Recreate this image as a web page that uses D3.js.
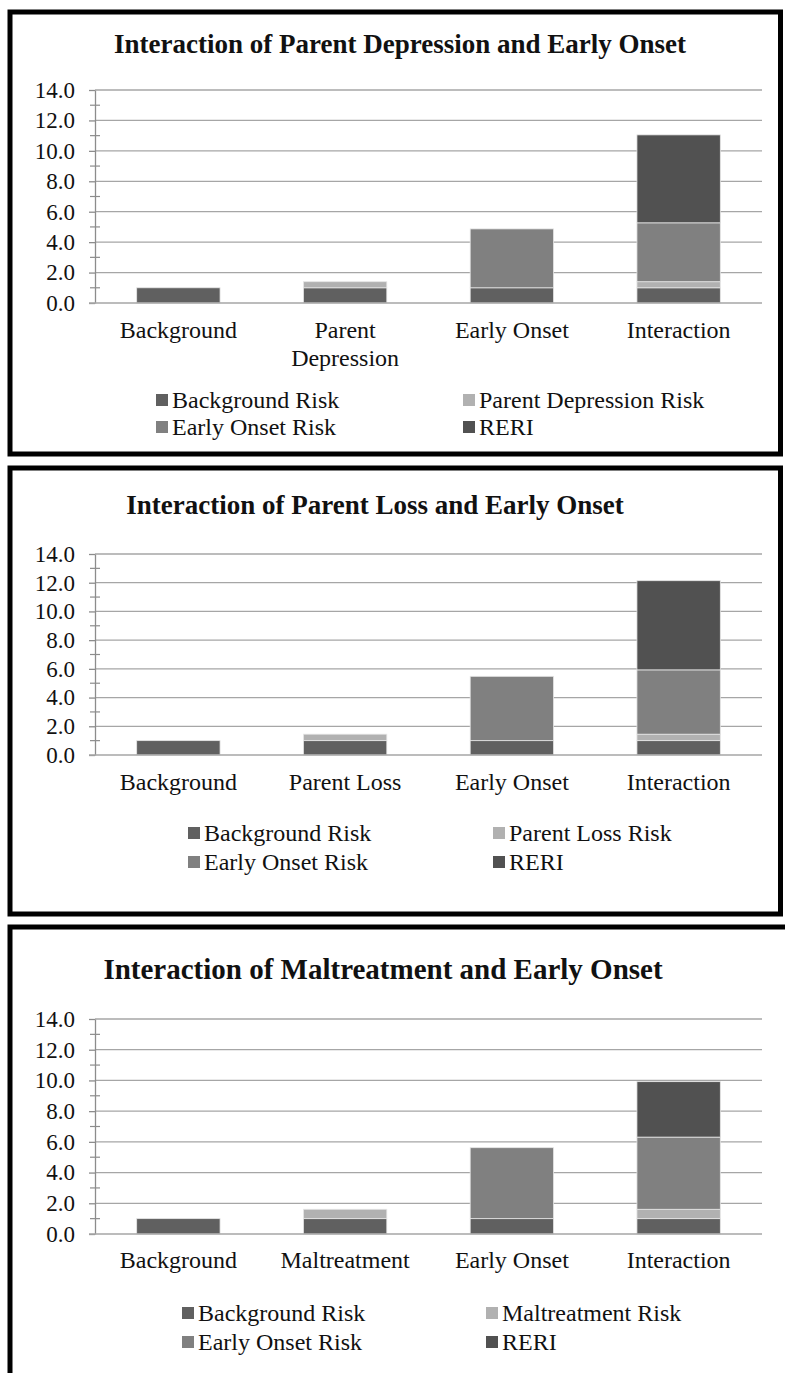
<!DOCTYPE html>
<html>
<head>
<meta charset="utf-8">
<script src="https://cdn.jsdelivr.net/npm/d3@7"></script>
<style>
  html, body { margin: 0; padding: 0; background: #fff; }
  svg { display: block; }
  text { font-family: "Liberation Serif", "Times New Roman", serif; fill: #111; }
</style>
</head>
<body>
<svg id="chart" width="785" height="1373"></svg>
<script>
// ---------------- DATA ----------------
const yTickValues = [0, 2, 4, 6, 8, 10, 12, 14];
const yMinorValues = [1, 3, 5, 7, 9, 11, 13];

// Panel 1
const title1 = "Interaction of Parent Depression and Early Onset";
const categories1 = ["Background", "Parent Depression", "Early Onset", "Interaction"];
const series1 = ["Background Risk", "Parent Depression Risk", "Early Onset Risk", "RERI"];
const backgroundRisk1 = [1.0, 1.0, 1.0, 1.0];
const factorRisk1 = [0, 0.4, 0, 0.4];
const earlyOnsetRisk1 = [0, 0, 3.87, 3.87];
const reri1 = [0, 0, 0, 5.78];

// Panel 2
const title2 = "Interaction of Parent Loss and Early Onset";
const categories2 = ["Background", "Parent Loss", "Early Onset", "Interaction"];
const series2 = ["Background Risk", "Parent Loss Risk", "Early Onset Risk", "RERI"];
const backgroundRisk2 = [1.0, 1.0, 1.0, 1.0];
const factorRisk2 = [0, 0.45, 0, 0.45];
const earlyOnsetRisk2 = [0, 0, 4.48, 4.48];
const reri2 = [0, 0, 0, 6.21];

// Panel 3
const title3 = "Interaction of Maltreatment and Early Onset";
const categories3 = ["Background", "Maltreatment", "Early Onset", "Interaction"];
const series3 = ["Background Risk", "Maltreatment Risk", "Early Onset Risk", "RERI"];
const backgroundRisk3 = [1.0, 1.0, 1.0, 1.0];
const factorRisk3 = [0, 0.61, 0, 0.61];
const earlyOnsetRisk3 = [0, 0, 4.62, 4.70];
const reri3 = [0, 0, 0, 3.61];

const seriesColors = ["#606060", "#b1b1b1", "#808080", "#515151"];

// ---------------- LAYOUT ----------------
const panels = [
  { title: title1, titleSize: 27, titleX: 400, cats: categories1, series: series1,
    values: [backgroundRisk1, factorRisk1, earlyOnsetRisk1, reri1],
    box: [10, 12, 780.5, 454], titleY: 44, yBase: 303, yTop: 90, labelY: 330,
    legendY: [400, 427], legendX: [156, 463] },
  { title: title2, titleSize: 27, titleX: 375, cats: categories2, series: series2,
    values: [backgroundRisk2, factorRisk2, earlyOnsetRisk2, reri2],
    box: [10, 468, 780.5, 914], titleY: 505, yBase: 755, yTop: 554, labelY: 782,
    legendY: [833, 862], legendX: [188, 493] },
  { title: title3, titleSize: 29, titleX: 383, cats: categories3, series: series3,
    values: [backgroundRisk3, factorRisk3, earlyOnsetRisk3, reri3],
    box: [10, 927, 792, 1395], titleY: 969, yBase: 1234, yTop: 1019, labelY: 1260,
    legendY: [1313, 1342], legendX: [182, 486] }
];

const xLeft = 95, xRight = 762;
const svg = d3.select("#chart");

panels.forEach(p => {
  const g = svg.append("g");

  // frame
  g.append("rect")
    .attr("x", p.box[0]).attr("y", p.box[1])
    .attr("width", p.box[2] - p.box[0]).attr("height", p.box[3] - p.box[1])
    .attr("fill", "none").attr("stroke", "#000").attr("stroke-width", 5);

  // title
  g.append("text")
    .attr("x", p.titleX).attr("y", p.titleY)
    .attr("dy", "0.35em")
    .attr("text-anchor", "middle")
    .attr("font-weight", "bold")
    .attr("font-size", p.titleSize)
    .text(p.title);

  const y = d3.scaleLinear().domain([0, 14]).range([p.yBase, p.yTop]);
  const x = d3.scaleBand().domain(p.cats).range([xLeft, xRight])
    .paddingInner(0.5).paddingOuter(0.25);

  // gridlines
  g.append("g").selectAll("line").data(yTickValues.filter(v => v > 0)).join("line")
    .attr("x1", xLeft).attr("x2", xRight)
    .attr("y1", d => y(d)).attr("y2", d => y(d))
    .attr("stroke", "#a6a6a6").attr("stroke-width", 1.3);

  // minor ticks
  g.append("g").selectAll("line").data(yMinorValues).join("line")
    .attr("x1", xLeft - 5).attr("x2", xLeft + 5)
    .attr("y1", d => y(d)).attr("y2", d => y(d))
    .attr("stroke", "#8c8c8c").attr("stroke-width", 1.2);

  // y axis
  const ax = g.append("g").attr("transform", `translate(${xLeft},0)`)
    .call(d3.axisLeft(y).tickValues(yTickValues).tickFormat(d3.format(".1f"))
      .tickSizeInner(6).tickSizeOuter(0).tickPadding(14));
  ax.select(".domain").attr("stroke", "#8c8c8c").attr("stroke-width", 1.3);
  ax.selectAll(".tick line").attr("stroke", "#8c8c8c").attr("stroke-width", 1.3);
  ax.selectAll(".tick text").attr("font-size", 23).attr("fill", "#111")
    .attr("font-family", "Liberation Serif");

  // stacked bars
  const rows = p.cats.map((c, i) => {
    const r = { cat: c };
    p.series.forEach((s, k) => { r[s] = p.values[k][i]; });
    return r;
  });
  const stacked = d3.stack().keys(p.series)(rows);
  const color = d3.scaleOrdinal().domain(p.series).range(seriesColors);

  g.append("g").selectAll("g").data(stacked).join("g")
    .attr("fill", d => color(d.key))
    .selectAll("rect").data(d => d.filter(e => e[1] - e[0] > 0)).join("rect")
    .attr("x", d => x(d.data.cat))
    .attr("width", x.bandwidth())
    .attr("y", d => y(d[1]))
    .attr("height", d => y(d[0]) - y(d[1]))
    .attr("stroke", "#e6e6e6").attr("stroke-width", 0.8);

  // baseline (x axis)
  g.append("line")
    .attr("x1", xLeft - 6).attr("x2", xRight)
    .attr("y1", y(0)).attr("y2", y(0))
    .attr("stroke", "#a6a6a6").attr("stroke-width", 1.3);

  // category labels with wrapping
  const lab = g.append("g").selectAll("text").data(p.cats).join("text")
    .attr("x", d => x(d) + x.bandwidth() / 2)
    .attr("y", p.labelY)
    .attr("dy", "0.35em")
    .attr("text-anchor", "middle")
    .attr("font-size", 24)
    .text(d => d);
  lab.each(function (d) {
    const t = d3.select(this);
    if (this.getComputedTextLength() > x.step()) {
      const words = d.split(" ");
      t.text(null);
      words.forEach((w, i) => {
        t.append("tspan").attr("x", x(d) + x.bandwidth() / 2)
          .attr("y", p.labelY + i * 28).attr("dy", "0.35em").text(w);
      });
    }
  });

  // legend
  const leg = g.append("g").selectAll("g").data(p.series).join("g")
    .attr("transform", (d, i) => `translate(${p.legendX[i % 2]},${p.legendY[Math.floor(i / 2)]})`);
  leg.append("rect").attr("x", 0).attr("y", -6).attr("width", 12).attr("height", 12)
    .attr("fill", d => color(d));
  leg.append("text").attr("x", 16).attr("y", 0).attr("dy", "0.35em")
    .attr("font-size", 24).text(d => d);
});
</script>
</body>
</html>
